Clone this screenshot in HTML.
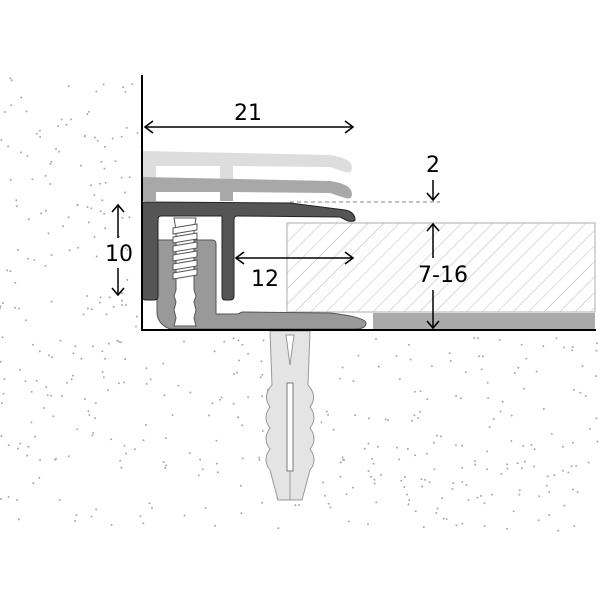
<!DOCTYPE html>
<html><head><style>body{margin:0;background:#fff}svg{display:block}</style></head><body>
<svg width="600" height="600" viewBox="0 0 600 600" xmlns="http://www.w3.org/2000/svg" font-family="DejaVu Sans, Liberation Sans, sans-serif">
<defs>
<pattern id="h" width="11" height="11" patternUnits="userSpaceOnUse" patternTransform="rotate(45)">
<line x1="0" y1="0" x2="0" y2="11" stroke="#bbb" stroke-width="1"/></pattern>
</defs>
<g id="dots" fill="#aaa"></g>
<!-- ghost profiles -->
<path d="M143,151 L330,155 Q352,158 352,168 Q352,174 345,172 L330,167 L233,166 L233,201 L220,201 L220,166 L156,166 L156,201 L143,201Z" fill="#ddd"/>
<path d="M143,177 L330,181 Q352,184 352,194 Q352,200 345,198 L330,193 L233,192 L233,201 L220,201 L220,192 L156,192 L156,201 L143,201Z" fill="#a8a8a8"/>
<!-- tile -->
<rect x="287" y="223" width="308" height="89" fill="url(#h)" stroke="#bbb" stroke-width="1.2"/>
<rect x="373" y="313" width="222" height="16" fill="#aaa"/>
<line x1="290" y1="202" x2="440" y2="202" stroke="#888" stroke-dasharray="4,3"/>
<!-- base -->
<path d="M157,240 L212,240 Q216,240 216,244 L216,314 L238,314 L242,312 L330,313 Q365,317 366,323 Q366,329 355,329 L170,329 Q157,324 157,312Z" fill="#999" stroke="#555" stroke-width="1"/>
<!-- screw -->
<path d="M174,218 L196,218 L194,230 L194,290 L196,296 L194,302 L196,310 L194,318 L196,326 L174,326 L176,318 L174,310 L176,302 L174,296 L176,290 L176,230Z" fill="#fff" stroke="#555"/>
<g stroke="#555" fill="#fff">
<path d="M173,228 L197,224 L197,230 L173,234Z"/><path d="M173,237 L197,233 L197,239 L173,243Z"/><path d="M173,246 L197,242 L197,248 L173,252Z"/><path d="M173,255 L197,251 L197,257 L173,261Z"/><path d="M173,264 L197,260 L197,266 L173,270Z"/><path d="M173,273 L197,269 L197,275 L173,279Z"/>
</g>
<!-- dark profile -->
<path d="M142,204 Q142,202 146,202 L290,203 L345,210 Q355,212 355,220 Q354,222 348,221 L340,217 L237,216 Q234,216 234,220 L234,296 Q234,300 230,300 L225,300 Q222,300 222,296 L222,216 L161,216 Q158,216 158,220 L158,296 Q158,300 154,300 L146,300 Q142,300 142,296Z" fill="#555" stroke="#222" stroke-width="1"/>
<!-- anchor -->
<path d="M270,331 L310,331 L308,385 Q318,396 310,407 Q318,418 310,428 Q318,439 310,449 Q318,460 310,470 L302,500 L278,500 L270,470 Q262,460 270,449 Q262,439 270,428 Q262,418 270,407 Q262,396 272,385Z" fill="#e4e4e4" stroke="#999"/>
<rect x="287" y="383" width="6" height="88" fill="#fff" stroke="#777"/>
<line x1="290" y1="471" x2="290" y2="500" stroke="#999"/>
<path d="M286,335 L294,335 L290,365Z" fill="#fff" stroke="#999"/>
<!-- wall and floor -->
<line x1="142" y1="75" x2="142" y2="331" stroke="#000" stroke-width="2"/>
<line x1="141" y1="330" x2="596" y2="330" stroke="#000" stroke-width="2"/>
<!-- dimensions -->
<line x1="145" y1="127" x2="352" y2="127" stroke="#000" stroke-width="1.5"/>
<path d="M153,121 L145,127 L153,133" fill="none" stroke="#000" stroke-width="1.6"/>
<path d="M345,121 L353,127 L345,133" fill="none" stroke="#000" stroke-width="1.6"/>
<text x="248" y="120" font-size="22" text-anchor="middle">21</text>
<line x1="118" y1="205" x2="118" y2="238" stroke="#000" stroke-width="1.5"/><path d="M112,212 L118,205 L124,212" fill="none" stroke="#000" stroke-width="1.6"/>
<line x1="118" y1="268" x2="118" y2="295" stroke="#000" stroke-width="1.5"/><path d="M112,288 L118,295 L124,288" fill="none" stroke="#000" stroke-width="1.6"/>
<text x="119" y="261" font-size="22" text-anchor="middle">10</text>
<line x1="236" y1="258" x2="352" y2="258" stroke="#000" stroke-width="1.5"/><path d="M244,252 L236,258 L244,264" fill="none" stroke="#000" stroke-width="1.6"/><path d="M345,252 L353,258 L345,264" fill="none" stroke="#000" stroke-width="1.6"/>
<text x="265" y="286" font-size="22" text-anchor="middle">12</text>
<text x="433" y="172" font-size="22" text-anchor="middle">2</text>
<line x1="433" y1="180" x2="433" y2="200" stroke="#000" stroke-width="1.5"/><path d="M427,193 L433,200 L439,193" fill="none" stroke="#000" stroke-width="1.6"/>
<line x1="433" y1="224" x2="433" y2="258" stroke="#000" stroke-width="1.5"/><path d="M427,231 L433,224 L439,231" fill="none" stroke="#000" stroke-width="1.6"/>
<line x1="433" y1="290" x2="433" y2="328" stroke="#000" stroke-width="1.5"/><path d="M427,321 L433,328 L439,321" fill="none" stroke="#000" stroke-width="1.6"/>
<text x="443" y="282" font-size="22" text-anchor="middle">7-16</text>
</svg>
<script>
var g=document.getElementById('dots'),s=7,h='';
function r(){s=(s*16807)%2147483647;return s/2147483647;}
for(var i=0;i<110;i++){var x=r()*138,y=78+r()*250;h+='<circle cx="'+x.toFixed(1)+'" cy="'+y.toFixed(1)+'" r="1"/>';}
for(var i=0;i<330;i++){var x=r()*600,y=336+r()*195;h+='<circle cx="'+x.toFixed(1)+'" cy="'+y.toFixed(1)+'" r="1"/>';}
g.innerHTML=h;
</script>
</body></html>
